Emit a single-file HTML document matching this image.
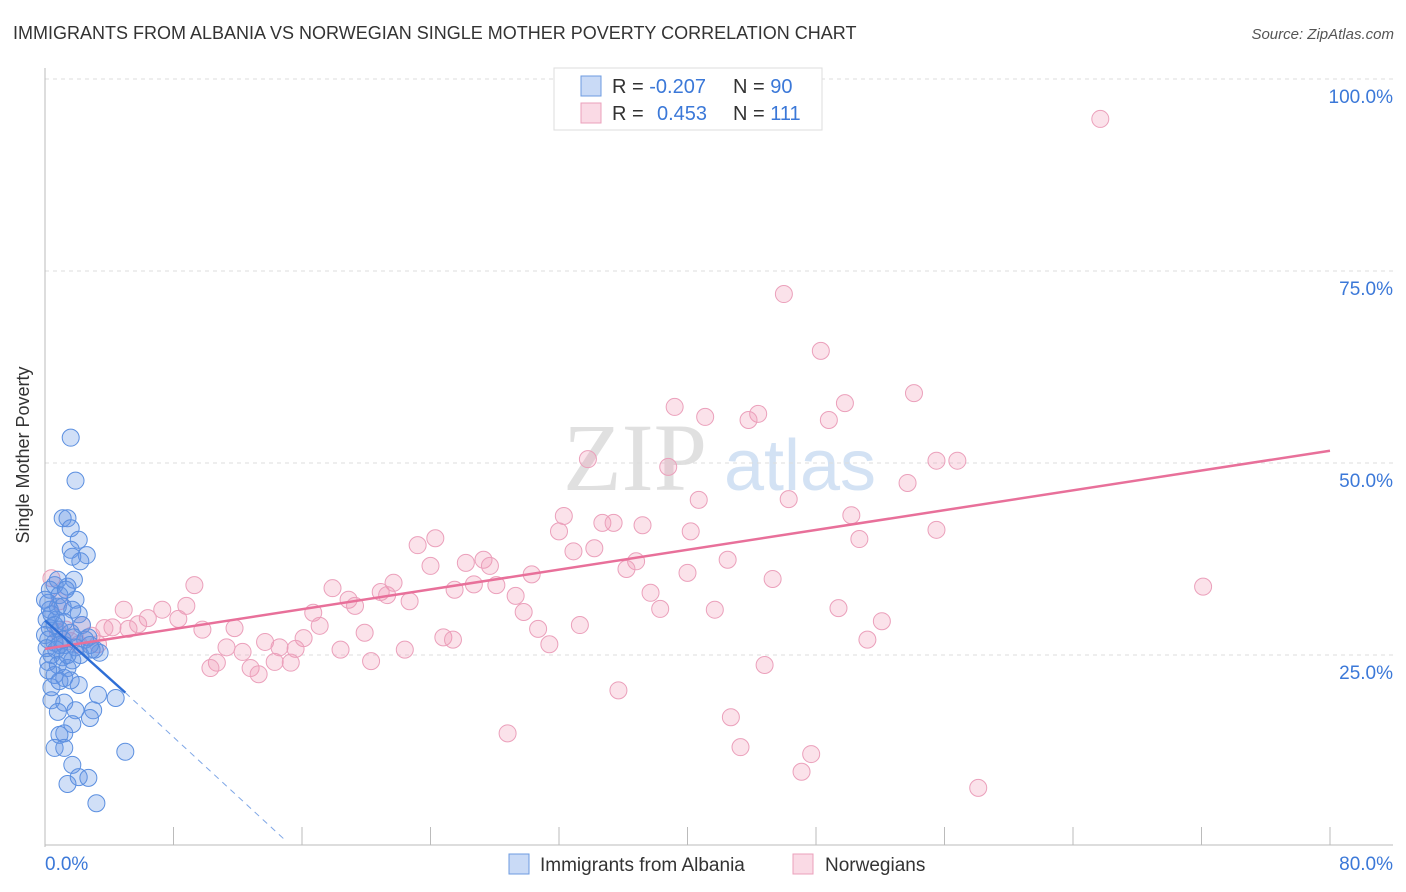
<!DOCTYPE html>
<html><head><meta charset="utf-8"><style>
body{margin:0;background:#fff;font-family:"Liberation Sans",sans-serif;}
svg{display:block}
</style></head><body>
<svg id="chart" width="1406" height="892">
<text x="13" y="39" font-size="18" fill="#333">IMMIGRANTS FROM ALBANIA VS NORWEGIAN SINGLE MOTHER POVERTY CORRELATION CHART</text>
<text x="1394" y="39" font-size="15" fill="#555" font-style="italic" text-anchor="end">Source: ZipAtlas.com</text>
<text x="29" y="455" font-size="18" fill="#333" text-anchor="middle" transform="rotate(-90 29 455)">Single Mother Poverty</text>
<g>
<text x="635" y="490" font-size="96" font-family="Liberation Serif,serif" fill="#e0e0e0" text-anchor="middle">ZIP</text>
<text x="800" y="490" font-size="72" fill="#d3e2f4" text-anchor="middle">atlas</text>
</g>
<g id="grid"></g>
<g id="axes"></g>
<g id="marks"></g>
<g>
<rect x="554" y="68" width="268" height="62" fill="#fff" stroke="#ddd"/>
<rect x="581" y="76" width="20" height="20" fill="rgba(100,150,230,0.35)" stroke="#6d9be0"/>
<rect x="581" y="103" width="20" height="20" fill="rgba(240,150,180,0.35)" stroke="#eba0bb"/>
<text x="612" y="93" font-size="20" fill="#333">R = <tspan fill="#3b78d8">-0.207</tspan></text>
<text x="733" y="93" font-size="20" fill="#333">N = <tspan fill="#3b78d8">90</tspan></text>
<text x="612" y="120" font-size="20" fill="#333">R = <tspan fill="#3b78d8" x="657">0.453</tspan></text>
<text x="733" y="120" font-size="20" fill="#333">N = <tspan fill="#3b78d8">111</tspan></text>
</g>
<g>
<rect x="509" y="854" width="20" height="20" fill="rgba(100,150,230,0.35)" stroke="#6d9be0"/>
<text x="540" y="871" font-size="19" fill="#333">Immigrants from Albania</text>
<rect x="793" y="854" width="20" height="20" fill="rgba(240,150,180,0.35)" stroke="#eba0bb"/>
<text x="825" y="871" font-size="19" fill="#333">Norwegians</text>
</g>
</svg>
<script>
const yTicks=[25,50,75,100];
const yTickLabels=["25.0%","50.0%","75.0%","100.0%"];
const xTicks=[0,8,16,24,32,40,48,56,64,72,80];
const xEndLabels=["0.0%","80.0%"];
const pinkX=[65.7,46.0,48.3,39.2,41.1,44.4,43.8,49.8,48.8,54.1,33.8,38.8,55.5,56.8,53.7,40.7,46.3,32.3,50.2,32.0,40.2,55.5,34.7,35.4,37.2,24.3,23.2,32.9,34.2,50.7,26.2,27.3,27.7,24.0,36.8,36.2,42.5,30.3,40.0,45.3,21.7,17.9,26.7,28.1,25.5,29.3,20.9,21.3,22.7,37.7,18.9,19.3,72.1,49.4,41.7,38.3,29.8,52.1,16.7,4.9,7.3,8.8,9.3,6.4,8.3,5.8,4.2,3.7,5.2,11.8,9.8,17.1,33.3,30.7,19.9,24.8,25.4,31.4,51.2,16.1,13.7,14.6,15.6,12.3,11.3,18.4,22.4,10.7,10.3,12.8,13.3,14.3,15.3,20.3,44.8,35.7,42.7,43.3,28.8,47.7,47.1,58.1,0.4,0.9,2.9,2.3,1.6,2.1,1.3,3.3,0.8];
const pinkY=[94.8,72.0,64.6,57.3,56.0,56.4,55.6,57.8,55.6,59.1,50.5,49.5,50.3,50.3,47.4,45.2,45.3,43.1,43.2,41.1,41.1,41.3,42.2,42.2,41.9,40.2,39.3,38.5,38.9,40.1,37.0,37.4,36.6,36.6,37.2,36.2,37.4,35.5,35.7,34.9,34.4,33.7,34.2,34.1,33.5,32.7,33.2,32.8,32.0,33.1,32.2,31.4,33.9,31.1,30.9,31.0,30.6,29.4,30.5,30.9,30.9,31.4,34.1,29.8,29.7,29.0,28.6,28.5,28.4,28.5,28.3,28.8,28.9,28.4,27.9,27.3,27.0,26.4,27.0,27.2,26.7,26.0,25.8,25.4,26.0,25.7,25.7,24.0,23.3,23.3,22.5,24.1,24.0,24.2,23.7,20.4,16.9,13.0,14.8,12.1,9.8,7.7,35.0,32.0,27.5,28.9,26.8,26.4,28.3,26.4,28.0];
const blueX=[1.6,1.9,1.1,1.4,1.6,2.1,1.6,2.6,2.2,1.7,1.8,0.6,1.4,0.3,0.9,1.9,0.2,0.8,1.1,0.4,2.1,0.1,0.7,2.3,0.3,0.9,1.6,2.7,0.2,0.6,1.2,1.9,3.1,3.4,0.4,1.1,1.7,0.2,0.8,1.4,0.6,1.2,2.1,0.4,0.9,1.6,3.3,4.4,0.4,1.2,1.9,3.0,0.8,2.8,1.7,1.2,0.9,0.6,1.2,5.0,1.7,2.1,2.7,1.4,3.2,0.0,0.1,0.3,2.5,2.8,2.2,1.1,0.0,0.8,1.3,1.7,0.6,1.2,1.8,0.7,1.4,0.2,0.9,2.9];
const blueY=[53.3,47.7,42.8,42.8,41.5,40.0,38.7,38.0,37.2,37.8,34.8,34.1,33.9,33.5,32.8,32.2,31.8,31.3,31.3,30.3,30.3,29.6,29.6,28.9,28.5,28.3,27.9,27.3,27.0,26.6,26.3,26.0,25.7,25.3,25.0,24.7,24.3,24.1,23.7,23.3,22.4,22.0,21.1,20.8,21.6,21.7,19.8,19.4,19.1,18.8,17.8,17.8,17.6,16.8,16.0,14.8,14.6,12.9,12.9,12.4,10.7,9.1,9.0,8.2,5.7,27.6,25.9,30.9,27.0,26.3,25.0,27.0,32.2,34.8,33.5,30.9,28.9,29.3,27.3,25.7,25.0,23.0,26.3,25.7];
const pinkTrendX=[0,80];
const pinkTrendY=[25.8,51.6];
const blueTrendX=[0,5.0];
const blueTrendY=[29.5,20.1];
const blueDashX=[5.0,15.0];
const blueDashY=[20.1,0.8];

const X0=45,X1=1330,Y0=847,Y100=79;
const sx=v=>X0+(X1-X0)*v/80;
const sy=v=>Y0-(Y0-Y100)*v/100;
const NS="http://www.w3.org/2000/svg";
function mk(tag,attrs,parent){const e=document.createElementNS(NS,tag);for(const k in attrs)e.setAttribute(k,attrs[k]);parent.appendChild(e);return e;}
const grid=document.getElementById('grid'),axes=document.getElementById('axes'),marks=document.getElementById('marks');
yTicks.forEach((t,i)=>{
  const l=mk('line',{x1:X0,x2:1393,y1:sy(t),y2:sy(t),stroke:'#ddd','stroke-dasharray':'4,4'},grid);
  
  
  const tx=mk('text',{x:1393,y:sy(t)+24,'font-size':19,fill:'#3b78d8','text-anchor':'end'},axes);
  tx.textContent=yTickLabels[i];
  
  
});
const ax=mk('line',{x1:X0,x2:X0,y1:68,y2:847,stroke:'#bbb'},axes);


const bx=mk('line',{x1:X0,x2:1393,y1:845,y2:845,stroke:'#bbb'},axes);


xTicks.forEach(t=>{
  const l=mk('line',{x1:sx(t),x2:sx(t),y1:827,y2:845,stroke:'#bbb'},axes);
  
  
});
const xl0=mk('text',{x:45,y:870,'font-size':19,fill:'#3b78d8'},axes);xl0.textContent=xEndLabels[0];


const xl1=mk('text',{x:1393,y:870,'font-size':19,fill:'#3b78d8','text-anchor':'end'},axes);xl1.textContent=xEndLabels[1];


pinkX.forEach((v,i)=>{
  const c=mk('circle',{cx:sx(v),cy:sy(pinkY[i]),r:8.5,fill:'rgba(240,150,180,0.28)',stroke:'#eba0bb','stroke-width':1},marks);
  
  
});
blueX.forEach((v,i)=>{
  const c=mk('circle',{cx:sx(v),cy:sy(blueY[i]),r:8.5,fill:'rgba(100,150,230,0.3)',stroke:'#5b8fe0','stroke-width':1},marks);
  
  
});
const pl=mk('line',{x1:sx(pinkTrendX[0]),y1:sy(pinkTrendY[0]),x2:sx(pinkTrendX[1]),y2:sy(pinkTrendY[1]),stroke:'#e8709a','stroke-width':2.5},marks);


const bl=mk('line',{x1:sx(blueTrendX[0]),y1:sy(blueTrendY[0]),x2:sx(blueTrendX[1]),y2:sy(blueTrendY[1]),stroke:'#2f6fd6','stroke-width':2.5},marks);


const bd=mk('line',{x1:sx(blueDashX[0]),y1:sy(blueDashY[0]),x2:sx(blueDashX[1]),y2:sy(blueDashY[1]),stroke:'#7ea6e6','stroke-width':1,'stroke-dasharray':'6,5'},marks);


</script>
</body></html>
